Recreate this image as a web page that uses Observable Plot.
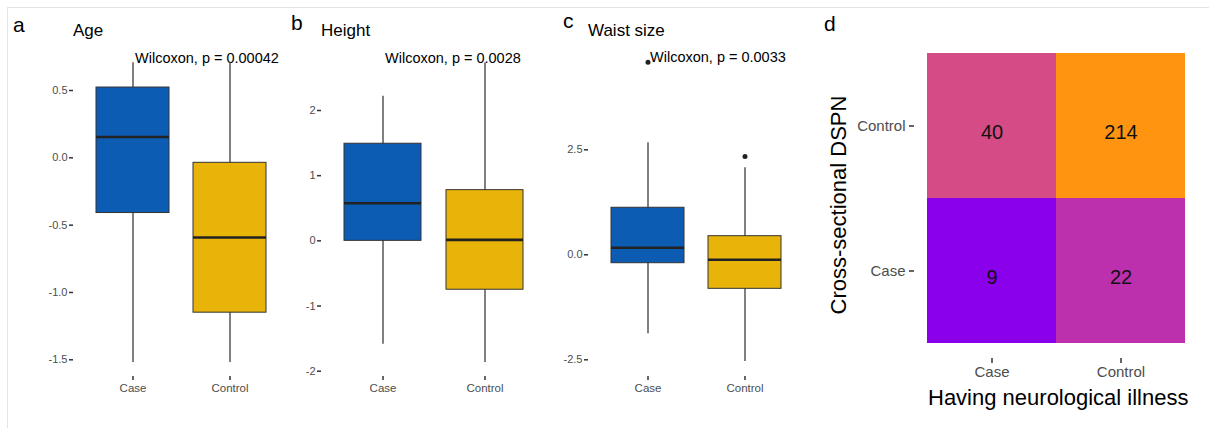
<!DOCTYPE html>
<html><head><meta charset="utf-8">
<script src="https://cdn.jsdelivr.net/npm/d3@7"></script>
<script src="https://cdn.jsdelivr.net/npm/@observablehq/plot@0.6"></script>
<style>
html,body{margin:0;padding:0;background:#fff;}
#fig{position:relative;width:1209px;height:428px;overflow:hidden;font-family:"Liberation Sans",Arial,sans-serif;background:#fff;}
#fig svg{position:absolute;left:0;top:0;}
.t{position:absolute;line-height:1;white-space:nowrap;color:#000;}
#frame{position:absolute;left:7px;top:7px;right:-2px;bottom:-2px;border-top:1px solid #e4e4e4;border-left:1px solid #e4e4e4;}
</style></head><body><div id="fig"><div id="frame"></div></div>
<script>
// ---------- data ----------
const groups = ["Case", "Control"];

const ageMin = [-1.52, -1.52];
const ageQ1 = [-0.41, -1.15];
const ageMedian = [0.155, -0.592];
const ageQ3 = [0.522, -0.037];
const ageMax = [0.706, 0.706];
const ageTicks = [-1.5, -1, -0.5, 0, 0.5];

const heightMin = [-1.585, -1.866];
const heightQ1 = [0.0, -0.75];
const heightMedian = [0.578, 0.015];
const heightQ3 = [1.49, 0.778];
const heightMax = [2.22, 2.73];
const heightTicks = [-2, -1, 0, 1, 2];

const waistMin = [-1.88, -2.54];
const waistQ1 = [-0.2, -0.81];
const waistMedian = [0.167, -0.119];
const waistQ3 = [1.12, 0.443];
const waistMax = [2.67, 2.07];
const waistOutlierGroup = ["Case", "Control"];
const waistOutlierValue = [4.586, 2.34];
const waistTicks = [-2.5, 0, 2.5];

const pLabels = ["Wilcoxon, p = 0.00042", "Wilcoxon, p = 0.0028", "Wilcoxon, p = 0.0033"];
const panelTitles = ["Age", "Height", "Waist size"];

const illnessLevels = ["Case", "Control"];      // x of heatmap
const dspnLevels = ["Control", "Case"];         // y of heatmap (top to bottom)
const cellIllness = ["Case", "Control", "Case", "Control"];
const cellDspn = ["Control", "Control", "Case", "Case"];
const cellCount = [40, 214, 9, 22];

// ---------- styles ----------
const FONT = '"Liberation Sans", Arial, sans-serif';
const boxColors = ["#0C5CB4", "#E9B40A"];
const cellColors = ["#D54B86", "#FE9410", "#8B00EA", "#BC2FAD"];

const fig = document.getElementById("fig");

function boxPanel(o) {
  const rows = groups.map((g, i) => ({group: g, min: o.mins[i], q1: o.q1[i], median: o.med[i], q3: o.q3[i], max: o.maxs[i]}));
  const outs = (o.outG || []).map((g, i) => ({group: g, value: o.outV[i]}));
  const top = d3.max([...o.maxs, ...(o.outV || [])]);
  return Plot.plot({
    width: 1209, height: 428,
    marginLeft: o.axisLeft, marginBottom: 428 - o.axisBottom, marginTop: 0, marginRight: 0,
    style: {fontFamily: FONT, background: "transparent", overflow: "visible"},
    x: {domain: groups, range: o.xRange, padding: o.pad},
    y: {domain: o.yDomain, range: o.yRange},
    color: {domain: groups, range: boxColors},
    marks: [
      Plot.axisY({ticks: o.ticks, tickFormat: o.fmt, tickSize: 4, tickPadding: 2, fontSize: 11, fill: "#4d4d4d", stroke: "#333", strokeWidth: 1.5, label: null}),
      Plot.axisX({tickSize: 4, tickPadding: 3, fontSize: 11.5, fill: "#4d4d4d", stroke: "#333", strokeWidth: 1.5, label: null}),
      Plot.text([{g: "Case", v: top, t: o.label}], {x: "g", y: "v", text: "t", textAnchor: "start", lineAnchor: "bottom", dx: 2, dy: 0, fontSize: 14.5, fill: "#000"}),
      Plot.ruleX(rows, {x: "group", y1: "min", y2: "max", stroke: "#4a4a4a", strokeWidth: 1.4}),
      Plot.barY(rows, {x: "group", y1: "q1", y2: "q3", fill: "group", stroke: "#333", strokeWidth: 1}),
      Plot.tickY(rows, {x: "group", y: "median", stroke: "#222", strokeWidth: 2.6}),
      Plot.dot(outs, {x: "group", y: "value", r: 2.5, fill: "#222", stroke: "none"})
    ]
  });
}

fig.append(boxPanel({mins: ageMin, q1: ageQ1, med: ageMedian, q3: ageQ3, maxs: ageMax,
  ticks: ageTicks, fmt: d => d.toFixed(1), label: pLabels[0],
  yDomain: [-1.5, 0.5], yRange: [359.3, 90], xRange: [71, 291], pad: 0.245, axisLeft: 73, axisBottom: 376}));

fig.append(boxPanel({mins: heightMin, q1: heightQ1, med: heightMedian, q3: heightQ3, maxs: heightMax,
  ticks: heightTicks, fmt: d => String(d), label: pLabels[1],
  yDomain: [-2, 2], yRange: [370.7, 110], xRange: [317.9, 548.7], pad: 0.247, axisLeft: 321, axisBottom: 376}));

fig.append(boxPanel({mins: waistMin, q1: waistQ1, med: waistMedian, q3: waistQ3, maxs: waistMax,
  outG: waistOutlierGroup, outV: waistOutlierValue,
  ticks: waistTicks, fmt: d => d.toFixed(1), label: pLabels[2],
  yDomain: [-2.5, 2.5], yRange: [359.3, 149.3], xRange: [586, 806], pad: 0.245, axisLeft: 588, axisBottom: 376}));

const cells = cellCount.map((n, i) => ({x: cellIllness[i], y: cellDspn[i], n}));
fig.append(Plot.plot({
  width: 1209, height: 428,
  marginLeft: 914, marginBottom: 428 - 358, marginTop: 0, marginRight: 0,
  style: {fontFamily: FONT, background: "transparent", overflow: "visible"},
  x: {domain: illnessLevels, range: [926, 1185], padding: 0},
  y: {domain: dspnLevels, range: [52, 343], padding: 0},
  color: {type: "ordinal", domain: cellCount, range: cellColors},
  marks: [
    Plot.cell(cells, {x: "x", y: "y", fill: "n", inset: 0}),
    Plot.text(cells, {x: "x", y: "y", text: "n", fontSize: 20, fill: "#111", dy: 7}),
    Plot.axisX({tickSize: 5, tickPadding: 3, fontSize: 15, fill: "#4d4d4d", stroke: "#333", strokeWidth: 1.5, label: null}),
    Plot.axisY({tickSize: 5, tickPadding: 4, fontSize: 15, fill: "#4d4d4d", stroke: "#333", strokeWidth: 1.5, label: null})
  ]
}));

// ---------- text labels ----------
function addText(txt, left, baseline, fs, extra) {
  const s = document.createElement("div");
  s.className = "t";
  s.textContent = txt;
  s.style.fontSize = fs + "px";
  s.style.left = left + "px";
  s.style.top = (baseline - 0.8465 * fs) + "px";
  if (extra) Object.assign(s.style, extra);
  fig.append(s);
  return s;
}
addText("a", 13, 31.5, 21);
addText("b", 291, 30, 21);
addText("c", 563, 27.5, 21);
addText("d", 824, 30.5, 21);
addText(panelTitles[0], 73, 36, 17);
addText(panelTitles[1], 321, 36, 17);
addText(panelTitles[2], 588, 36, 17);

const xt = addText("Having neurological illness", 0, 406, 22);
xt.style.left = (1058 - xt.offsetWidth / 2) + "px";

const yt = document.createElement("div");
yt.className = "t";
yt.textContent = "Cross-sectional DSPN";
yt.style.fontSize = "22px";
yt.style.left = "839px";
yt.style.top = "205px";
yt.style.transform = "translate(-50%,-50%) rotate(-90deg)";
fig.append(yt);
</script>
</body></html>
